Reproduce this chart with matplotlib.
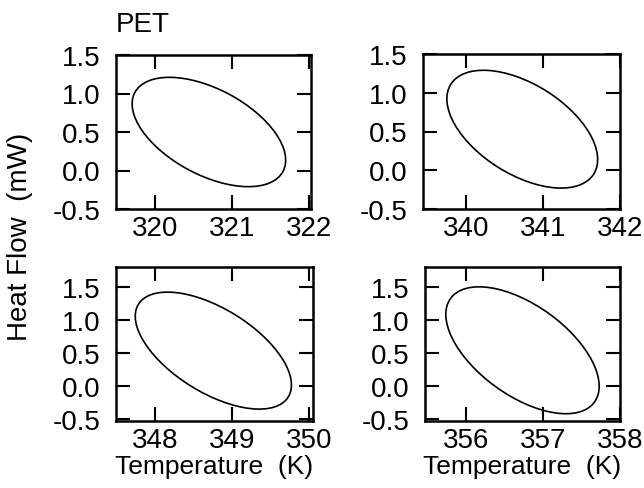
import numpy as np
import matplotlib
matplotlib.use('Agg')
import matplotlib.pyplot as plt
from matplotlib.patches import Ellipse

# Lissajous loop of each panel: mean / amplitude of temperature and heat flow,
# and phase angle between them
temp_mean = [320.70, 340.73, 348.755, 356.735]
temp_amp = [1.00, 0.98, 1.015, 0.995]
hf_mean = [0.50, 0.53, 0.535, 0.54]
hf_amp = [0.71, 0.76, 0.885, 0.96]
phase_deg = [121, 121, 126, 124.5]

x_ticks = [[320, 321, 322], [340, 341, 342], [348, 349, 350], [356, 357, 358]]
x_limits = [(319.49, 322.03), (339.44, 342.0), (347.49, 350.05), (355.47, 358.0)]
y_ticks = [-0.5, 0.0, 0.5, 1.0, 1.5]
y_limits = [(-0.5, 1.5), (-0.5, 1.5), (-0.53, 1.80), (-0.53, 1.80)]

plt.rcParams['font.family'] = ['Liberation Sans', 'DejaVu Sans']
fs = 20

fig = plt.figure(figsize=(6.44, 4.89), dpi=100)
W, H = 644, 489
# axes boxes in pixels: left, top, right, bottom
boxes = [(116, 56, 311, 210), (423, 55, 620, 210),
         (116, 268, 313, 422), (425, 268, 620, 422)]

for i, (l, t, r, b) in enumerate(boxes):
    ax = fig.add_axes([l / W, 1 - b / H, (r - l) / W, (b - t) / H])

    # ellipse from amplitude/phase -> principal axes
    a, bb, ph = temp_amp[i], hf_amp[i], np.radians(phase_deg[i])
    cov = np.array([[a * a, a * bb * np.cos(ph)], [a * bb * np.cos(ph), bb * bb]])
    vals, vecs = np.linalg.eigh(cov)
    ang = np.degrees(np.arctan2(vecs[1, 1], vecs[0, 1]))
    ell = Ellipse((temp_mean[i], hf_mean[i]), 2 * np.sqrt(vals[1]), 2 * np.sqrt(vals[0]),
                  angle=ang, fill=False, edgecolor='black', linewidth=1.2)
    ax.add_patch(ell)

    ax.set_xlim(*x_limits[i])
    ax.set_ylim(*y_limits[i])
    ax.set_xticks(x_ticks[i])
    ax.set_yticks(y_ticks)
    ax.set_xticklabels([str(v) for v in x_ticks[i]])
    ax.set_yticklabels(['-0.5', '0.0', '0.5', '1.0', '1.5'])
    ax.tick_params(direction='in', top=True, right=True, length=10, width=1.5,
                   labelsize=fs, colors='black')
    ax.tick_params(axis='x', pad=4)
    ax.tick_params(axis='y', pad=11)
    for s in ax.spines.values():
        s.set_linewidth(1.8)
    if i >= 2:
        ax.set_xlabel('Temperature  (K)', fontsize=19, labelpad=1)

fig.text(116 / W, 1 - 25 / H, 'PET', fontsize=fs, ha='left', va='center')
fig.text(20 / W, 1 - 237 / H, 'Heat Flow  (mW)', fontsize=fs, rotation=90,
         ha='center', va='center')

fig.savefig('out.png', dpi=100)
